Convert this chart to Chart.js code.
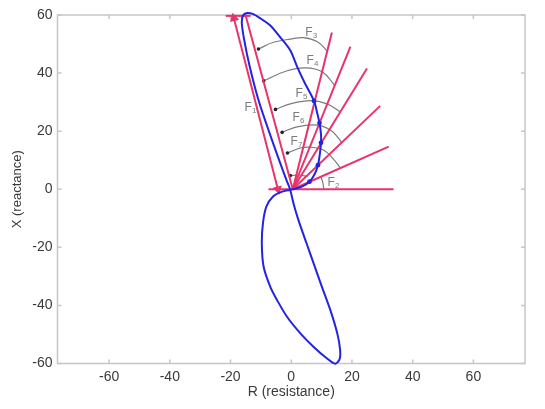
<!DOCTYPE html>
<html lang="en">
<head>
<meta charset="UTF-8">
<title>R-X plane</title>
<script src="https://cdn.jsdelivr.net/npm/chart.js"></script>
<style>
  html, body { margin: 0; padding: 0; background: #fff; }
</style>
</head>
<body>
<canvas id="rx" width="545" height="409"></canvas>
<script>
// axis ticks
const xTicks = [-60, -40, -20, 0, 20, 40, 60];
const yTicks = [-60, -40, -20, 0, 20, 40, 60];

// impedance trajectory (R, X)
const curveR = [0.5, -3.0, -6.0, -8.2, -9.3, -9.7, -9.1, -6.9, -4.7, -1.4, 3.0, 7.3, 11.7, 14.5, 15.9,
  16.1, 15.2, 13.1, 10.1, 7.6, 5.0, 2.4, 0.9, -0.4, -1.6, -4.5, -7.7, -10.8, -13.8, -15.6, -16.3, -15.8,
  -14.5, -12.5, -10.0, -6.9, -3.6, -0.3, 2.1, 4.5, 7.5, 8.6, 9.3, 9.8, 9.8, 9.4, 8.8, 7.6, 6.0, 3.5, 0.5];
const curveX = [0, -0.8, -2.5, -6.0, -11.5, -18.5, -26.7, -33.6, -38.1, -43.9, -49.6, -54.2, -58.2, -60.1, -58.6,
  -55.3, -49.8, -42.3, -33.6, -26.2, -18.5, -10.7, -5.5, 0, 3.2, 11.5, 21.0, 30.7, 42.8, 52.0, 57.5, 60.0,
  60.7, 60.3, 58.7, 56.4, 52.3, 47.8, 41.8, 36.5, 30.4, 26.0, 22.8, 19.0, 16.0, 12.0, 8.3, 5.0, 2.6, 0.9, 0];

// marked points where the rays meet the trajectory
const dotR = [7.5, 9.3, 9.8, 8.8, 6.0];
const dotX = [30.4, 22.8, 16.0, 8.3, 2.6];

// pink rays from the origin
const rayStartR = [-7.5, 0.5, 0.5, 0.5, 0.5, 0.5, 0.5];
const rayStartX = [0, 0, 0, 0, 0, 0, 0];
const rayEndR = [33.7, 32.1, 29.3, 24.95, 19.5, 13.4, -15.2];
const rayEndX = [0, 14.65, 28.7, 41.6, 49.1, 54.0, 60.5];

// F1 dimension arrow and its top extension
const arrowR = [-18.9, -4.4];
const arrowX = [58.9, 0];
const extR = [-21.6, -13.4];
const extX = [59.7, 59.7];

// angle arcs (first point carries the arrow dot)
const arcR = [
  [-10.8, -5.85, -0.3, 4.1, 8.6, 12.0],
  [-9.1, -1.6, 4.7, 10.3, 14.2],
  [-5.2, -0.3, 6.3, 11.8, 16.0],
  [-3.0, 1.9, 8.5, 12.9, 15.6, 16.6],
  [-1.25, 3.0, 6.3, 10.6, 13.9, 16.2],
  [-0.3, 2.5, 5.3],
  [10.7, 10.4, 9.7]
];
const arcX = [
  [48.3, 50.6, 51.7, 52.2, 50.8, 47.4],
  [37.3, 40.7, 41.8, 40.4, 35.9],
  [27.5, 29.4, 30.5, 29.4, 26.7],
  [19.6, 21.5, 22.1, 20.4, 17.5, 16.0],
  [12.5, 14.2, 14.5, 13.5, 10.4, 7.3],
  [4.7, 4.9, 4.4],
  [0, 2.3, 4.4]
];
const arcDot = [true, true, true, true, true, true, false];

// F labels
const labelSub = ['1', '2', '3', '4', '5', '6', '7'];
const labelR = [-13.4, 13.9, 6.6, 7.0, 3.4, 2.4, 1.7];
const labelX = [28.0, 2.2, 53.8, 44.2, 32.8, 24.5, 16.3];

const BLUE = '#2323e4';
const PINK = '#e8336b';
const GRAY = '#7c7c7c';

const pts = (rs, xs) => rs.map((r, i) => ({ x: r, y: xs[i] }));

const datasets = [];
datasets.push({
  data: pts(dotR, dotX), showLine: false, pointRadius: 2.4,
  pointBackgroundColor: BLUE, pointBorderWidth: 0
});
datasets.push({
  data: pts(curveR, curveX), showLine: true, borderColor: BLUE, borderWidth: 2,
  pointRadius: 0, tension: 0.3, clip: false
});
rayEndR.forEach((r, i) => datasets.push({
  data: [{ x: rayStartR[i], y: rayStartX[i] }, { x: r, y: rayEndX[i] }],
  showLine: true, borderColor: PINK, borderWidth: 2, pointRadius: 0, clip: false
}));
datasets.push({
  data: pts(arrowR, arrowX), showLine: true, borderColor: PINK, borderWidth: 2,
  pointStyle: 'triangle', pointRadius: 3.5, rotation: [-14.5, 165.5],
  pointBackgroundColor: PINK, pointBorderColor: PINK, clip: false
});
datasets.push({
  data: pts(extR, extX), showLine: true, borderColor: PINK, borderWidth: 2, pointRadius: 0, clip: false
});
arcR.forEach((rs, i) => datasets.push({
  data: pts(rs, arcX[i]), showLine: true, borderColor: GRAY, borderWidth: 1.2, tension: 0.4,
  pointRadius: rs.map((_, j) => (j === 0 && arcDot[i]) ? 1.8 : 0),
  pointBackgroundColor: '#222', pointBorderWidth: 0
}));

// box round the plot with small inward ticks
const boxPlugin = {
  id: 'box',
  beforeDatasetsDraw(chart) {
    const { ctx, chartArea: a, scales: { x, y } } = chart;
    ctx.save();
    ctx.strokeStyle = '#c6c6c6';
    ctx.lineWidth = 1.5;
    ctx.strokeRect(a.left, a.top, a.right - a.left, a.bottom - a.top);
    ctx.beginPath();
    xTicks.forEach(v => {
      const p = x.getPixelForValue(v);
      ctx.moveTo(p, a.bottom); ctx.lineTo(p, a.bottom - 4);
      ctx.moveTo(p, a.top); ctx.lineTo(p, a.top + 4);
    });
    yTicks.forEach(v => {
      const p = y.getPixelForValue(v);
      ctx.moveTo(a.left, p); ctx.lineTo(a.left + 4, p);
      ctx.moveTo(a.right, p); ctx.lineTo(a.right - 4, p);
    });
    ctx.stroke();
    ctx.restore();
  }
};

// F labels with subscripts
const labelPlugin = {
  id: 'flabels',
  afterDatasetsDraw(chart) {
    const { ctx, scales: { x, y } } = chart;
    ctx.save();
    ctx.fillStyle = GRAY;
    ctx.textBaseline = 'middle';
    labelSub.forEach((s, i) => {
      const px = x.getPixelForValue(labelR[i]) - 6;
      const py = y.getPixelForValue(labelX[i]);
      ctx.font = '12px "Liberation Sans", Arial, sans-serif';
      ctx.fillText('F', px, py);
      ctx.font = '8px "Liberation Sans", Arial, sans-serif';
      ctx.fillText(s, px + 7.5, py + 3);
    });
    ctx.restore();
  }
};

const tickFont = { family: '"Liberation Sans", Arial, sans-serif', size: 14 };

new Chart(document.getElementById('rx'), {
  type: 'scatter',
  data: { datasets },
  plugins: [boxPlugin, labelPlugin],
  options: {
    responsive: false,
    animation: false,
    layout: { padding: { top: 15, right: 20, left: 0, bottom: 0 } },
    plugins: { legend: { display: false }, tooltip: { enabled: false } },
    scales: {
      x: {
        min: -77, max: 77,
        afterBuildTicks: s => { s.ticks = xTicks.map(v => ({ value: v })); },
        afterFit: s => { s.height = 45.5; },
        grid: { display: false, drawTicks: false },
        border: { display: false },
        ticks: { font: tickFont, color: '#3a3a3a', padding: 5, maxRotation: 0 },
        title: {
          display: true, text: 'R (resistance)', color: '#3a3a3a',
          font: tickFont, padding: { top: 0, bottom: 8 }
        }
      },
      y: {
        min: -60, max: 60,
        afterBuildTicks: s => { s.ticks = yTicks.map(v => ({ value: v })); },
        afterFit: s => { s.width = 57.5; },
        grid: { display: false, drawTicks: false },
        border: { display: false },
        ticks: { font: tickFont, color: '#3a3a3a', padding: 5 },
        title: {
          display: true, text: 'X (reactance)', color: '#3a3a3a',
          font: { family: '"Liberation Sans", Arial, sans-serif', size: 13 },
          padding: { top: 10, bottom: 0 }
        }
      }
    }
  }
});
</script>
</body>
</html>
